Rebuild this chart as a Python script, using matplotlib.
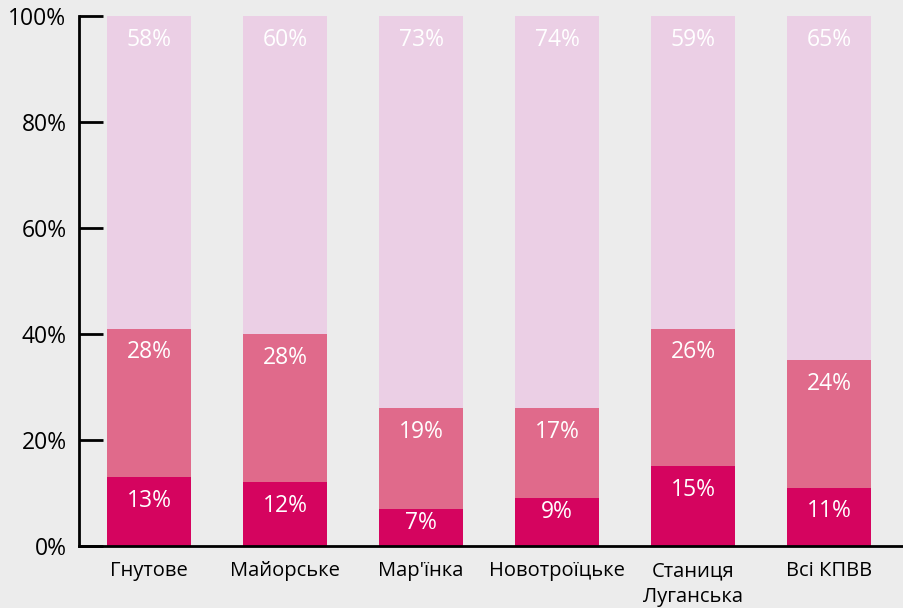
import numpy as np
import matplotlib.pyplot as plt

plt.rcParams['font.family'] = ['Open Sans', 'DejaVu Sans']

# дані
categories = ['Гнутове', 'Майорське', "Мар'їнка", 'Новотроїцьке', 'Станиця\nЛуганська', 'Всі КПВВ']
low = [13, 12, 7, 9, 15, 11]
mid = [28, 28, 19, 17, 26, 24]
high = [58, 60, 73, 74, 59, 65]
yticks = [0, 20, 40, 60, 80, 100]
ytick_labels = ['0%', '20%', '40%', '60%', '80%', '100%']

colors = ['#D5045F', '#E06A8B', '#EBCFE5']
bg = '#ECECEC'

data = np.array([low, mid, high], dtype=float)
# верхній сегмент добудовуємо до 100% (підписи округлені)
heights = data.copy()
heights[2] = 100 - data[0] - data[1]

fig = plt.figure(figsize=(9.04, 6.08), dpi=100, facecolor=bg)
ax = fig.add_axes([0.0874, 0.102, 0.9126, 0.8717], facecolor=bg)

x = np.arange(len(categories))
bottom = np.zeros(len(categories))
for i in range(3):
    ax.bar(x, heights[i], 0.62, bottom=bottom, color=colors[i], linewidth=0, clip_on=False)
    tops = bottom + heights[i]
    for xi, top, seg, v in zip(x, tops, heights[i], data[i]):
        off = -17 if seg >= 10 else -10
        ax.annotate(f'{int(v)}%', (xi, top), xytext=(0, off), textcoords='offset points',
                    ha='center', va='center', color='white', fontsize=16.5)
    bottom = tops

ax.set_xlim(-0.515, 5.55)
ax.set_ylim(0, 100)
ax.set_xticks(x)
ax.set_xticklabels(categories, fontsize=14.5, linespacing=1.4)
ax.set_yticks(yticks)
ax.set_yticklabels(ytick_labels, fontsize=16.5)

for s in ['top', 'right']:
    ax.spines[s].set_visible(False)
ax.spines['left'].set_linewidth(2)
ax.spines['bottom'].set_linewidth(2)
ax.tick_params(axis='y', direction='in', length=17, width=2, pad=9)
ax.tick_params(axis='x', length=0, pad=11)

plt.savefig('out.png', dpi=100, facecolor=bg)
